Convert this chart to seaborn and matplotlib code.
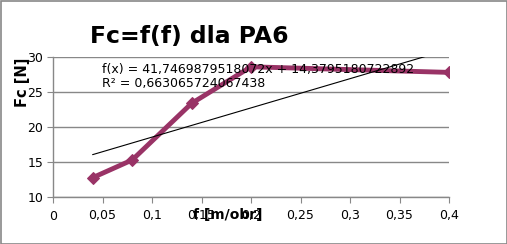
import matplotlib
matplotlib.use("Agg")
import matplotlib.pyplot as plt
import seaborn as sns
import numpy as np
import pandas as pd
from matplotlib.patches import Rectangle

# data
feed = [0.04, 0.08, 0.14, 0.20, 0.40]
force = [12.76, 15.29, 23.38, 28.6, 27.8]
trend_slope = 41.7469879518072
trend_intercept = 14.3795180722892
r2 = 0.663065724067438
x_ticks = [0, 0.05, 0.1, 0.15, 0.2, 0.25, 0.3, 0.35, 0.4]
x_tick_labels = ["0", "0,05", "0,1", "0,15", "0,2", "0,25", "0,3", "0,35", "0,4"]
y_ticks = [10, 15, 20, 25, 30]
y_tick_labels = ["10", "15", "20", "25", "30"]

sns.set_style("white")
plt.rcParams['font.family'] = ['DejaVu Sans']
plt.rcParams['text.color'] = 'black'

fig = plt.figure(figsize=(5.07, 2.44), dpi=100)
ax = fig.add_axes([53/507, 1-197/244, (449-53)/507, (197-57)/244])

df = pd.DataFrame({"f": feed, "Fc": force})
color = "#993366"
sns.lineplot(data=df, x="f", y="Fc", ax=ax, color=color, linewidth=3.5,
             marker="D", markersize=6, markeredgecolor=color, markerfacecolor=color,
             zorder=3)

tx = np.array([feed[0], feed[-1]])
ax.plot(tx, trend_slope * tx + trend_intercept, color="black", linewidth=0.8, zorder=4)

ax.set_xlim(0, 0.4)
ax.set_ylim(10, 30)
ax.set_xticks(x_ticks)
ax.set_xticklabels(x_tick_labels)
ax.set_yticks(y_ticks)
ax.set_yticklabels(y_tick_labels)
ax.yaxis.grid(True, color="#888888", linewidth=1)
ax.xaxis.grid(False)
ax.tick_params(axis="both", labelsize=9, labelcolor="black", length=4, width=0.8, color="#888888")
ax.tick_params(axis="x", direction="out", bottom=True, pad=5)
ax.tick_params(axis="y", direction="out", left=True, pad=3)
for s in ["top", "right"]:
    ax.spines[s].set_visible(False)
for s in ["left", "bottom"]:
    ax.spines[s].set_color("#888888")
    ax.spines[s].set_linewidth(1)

ax.set_xlabel("")
ax.set_ylabel("")
fig.text(228/507, 1-215/244, "f [m/obr]", fontsize=10, fontweight="bold", ha="center", va="center", color="black")
fig.text(22/507, 1-82/244, "Fc [N]", fontsize=10.5, fontweight="bold", ha="center", va="center", rotation=90, color="black")

fig.text(90/507, 1-36/244, "Fc=f(f) dla PA6", fontsize=16.9, fontweight="bold", ha="left", va="center", color="black")

eq = "f(x) = " + f"{trend_slope:.13f}".replace(".", ",") + "x + " + f"{trend_intercept:.13f}".replace(".", ",")
fig.text(102/507, 1-70/244, eq, fontsize=9, ha="left", va="center", color="black")
fig.text(102/507, 1-84/244, "R² = " + f"{r2:.15f}".replace(".", ","), fontsize=9, ha="left", va="center", color="black")

fig.patches.append(Rectangle((0.5/507, 0.5/244), 1-1/507, 1-1/244, transform=fig.transFigure,
                             fill=False, edgecolor="#888888", linewidth=1.2))

fig.savefig("out.png", dpi=100)
